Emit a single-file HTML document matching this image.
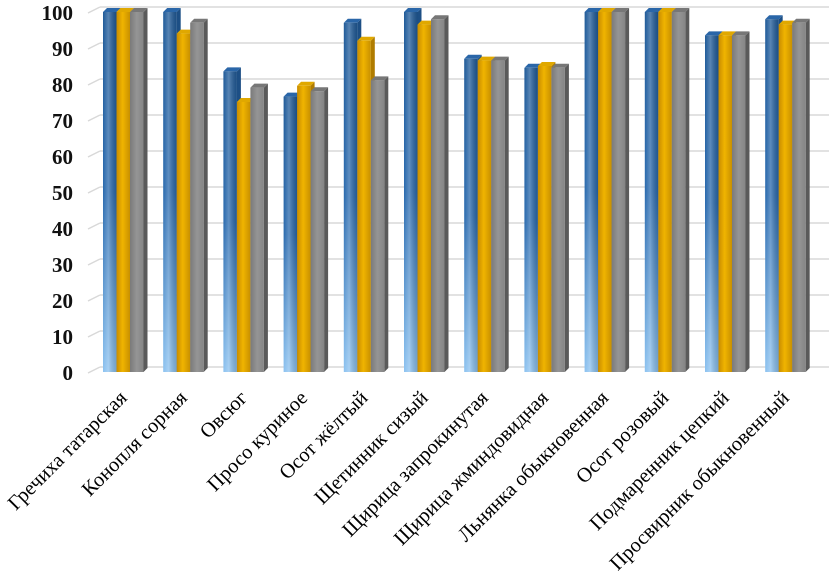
<!DOCTYPE html>
<html><head><meta charset="utf-8"><style>
html,body{margin:0;padding:0;background:#fff;}
svg{display:block;}
text{font-family:"Liberation Serif",serif;}
</style></head><body>
<svg id="chart" width="829" height="575" viewBox="0 0 829 575" xmlns="http://www.w3.org/2000/svg">
<defs>
<linearGradient id="gBlue" x1="0" y1="0" x2="0" y2="1">
<stop offset="0" stop-color="#1f5a98"/><stop offset="0.5" stop-color="#2a6aae"/><stop offset="1" stop-color="#8cc2f0"/></linearGradient>
<linearGradient id="gBlueH" x1="0" y1="0" x2="1" y2="0">
<stop offset="0" stop-color="#fff" stop-opacity="0"/><stop offset="0.4" stop-color="#fff" stop-opacity="0.25"/><stop offset="1" stop-color="#000" stop-opacity="0.15"/></linearGradient>
<linearGradient id="gYel" x1="0" y1="0" x2="1" y2="0">
<stop offset="0" stop-color="#c88c00"/><stop offset="0.45" stop-color="#f0b400"/><stop offset="1" stop-color="#c89000"/></linearGradient>
<linearGradient id="gGray" x1="0" y1="0" x2="1" y2="0">
<stop offset="0" stop-color="#7a7a7a"/><stop offset="0.5" stop-color="#959595"/><stop offset="1" stop-color="#858585"/></linearGradient>
</defs>
<g id="grid"></g>
<g id="yaxis"></g>
<g id="bars"></g>
<g id="xlabels"></g>
</svg>
<script>
const categories = ["Гречиха татарская","Конопля сорная","Овсюг","Просо куриное","Осот жёлтый","Щетинник сизый","Щирица запрокинутая","Щирица жминдовидная","Льнянка обыкновенная","Осот розовый","Подмаренник цепкий","Просвирник обыкновенный"];
const seriesBlue = [100,100,83.5,76.5,97,100,87,84.5,100,100,93.5,98];
const seriesYellow = [100,94,75,79.5,92,96.5,86.5,85,100,100,93.5,96.5];
const seriesGray = [100,97,79,78,81,98,86.5,84.5,100,100,93.5,97];
const yTicks = [0,10,20,30,40,50,60,70,80,90,100];

const NS="http://www.w3.org/2000/svg";
function el(tag,attrs,parent){const e=document.createElementNS(NS,tag);for(const k in attrs)e.setAttribute(k,attrs[k]);parent.appendChild(e);return e;}
const y0=372, yScale=3.6;
function yPos(v){return y0 - v*yScale;}
function xGroup(i){return 103 + i*60.2;}
const grid=document.getElementById('grid'), yaxis=document.getElementById('yaxis'), bars=document.getElementById('bars'), xl=document.getElementById('xlabels');
yTicks.forEach(t=>{
  const y=yPos(t);
  const gl=el('line',{x1:100,y1:y-5,x2:829,y2:y-5,stroke:'#d9d9d9','stroke-width':1.5},grid);
  
  
  const dl=el('line',{x1:88,y1:y+1,x2:100,y2:y-5,stroke:'#d9d9d9','stroke-width':1.5},grid);
  
  
  const tx=el('text',{x:73,y:y+8,'text-anchor':'end','font-size':21,'font-weight':'bold',fill:'#111'},yaxis);
  tx.textContent=t;
  
  
});
const series=[{v:seriesBlue,f:'url(#gBlue)',side:'#1d4f85',top:'#2a66a8',n:'blue'},{v:seriesYellow,f:'url(#gYel)',side:'#b07c00',top:'#e0a800',n:'yellow'},{v:seriesGray,f:'url(#gGray)',side:'#5a5a5a',top:'#777',n:'gray'}];
const bw=13.5, d=4;
categories.forEach((c,i)=>{
  series.forEach((s,j)=>{
    const x=xGroup(i)+j*bw, y=yPos(s.v[i]), h=y0-y;
    const g=el('g',{},bars);
    
    
    el('polygon',{points:`${x+bw},${y} ${x+bw+d},${y-d} ${x+bw+d},${y0-d} ${x+bw},${y0}`,fill:s.side},g);
    el('polygon',{points:`${x},${y} ${x+d},${y-d} ${x+bw+d},${y-d} ${x+bw},${y}`,fill:s.top},g);
    el('rect',{x:x,y:y,width:bw,height:h,fill:s.f},g);
    if(j===0) el('rect',{x:x,y:y,width:bw,height:h,fill:'url(#gBlueH)'},g);
  });
  const cx=xGroup(i)+25;
  const t=el('text',{x:cx,y:399,'text-anchor':'end','font-size':20.5,fill:'#000',transform:`rotate(-45 ${cx} 399)`},xl);
  t.textContent=c;
  
  
});
</script>
</body></html>
